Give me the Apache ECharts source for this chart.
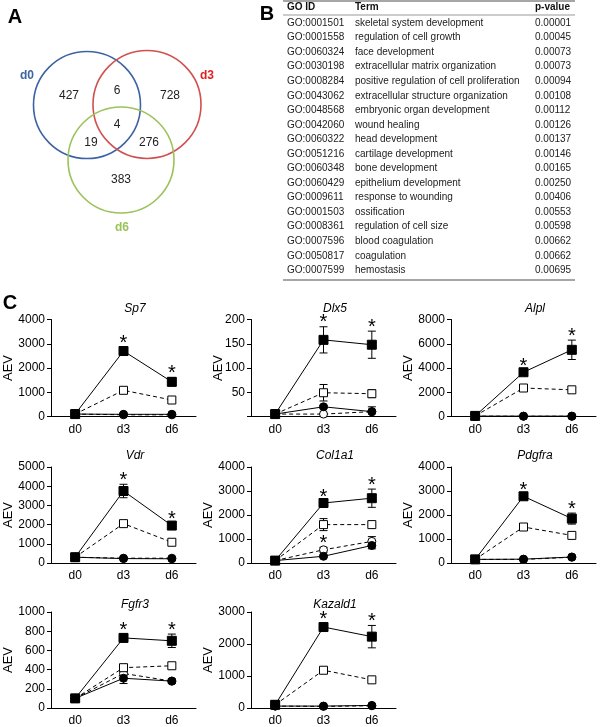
<!DOCTYPE html>
<html><head><meta charset="utf-8">
<script src="https://cdn.jsdelivr.net/npm/echarts@6/dist/echarts.min.js"></script>
<style>html,body{margin:0;padding:0;background:#fff}#c{width:600px;height:727px}</style>
</head><body><div id="c"></div>
<script>
// ---------- Data ----------
const vennSets = ['d0', 'd3', 'd6'];
const vennCounts = [427, 6, 728, 4, 19, 276, 383]; // d0only, d0d3, d3only, all, d0d6, d3d6, d6only

const goIds = ['GO:0001501','GO:0001558','GO:0060324','GO:0030198','GO:0008284','GO:0043062','GO:0048568','GO:0042060','GO:0060322','GO:0051216','GO:0060348','GO:0060429','GO:0009611','GO:0001503','GO:0008361','GO:0007596','GO:0050817','GO:0007599'];
const goTerms = ['skeletal system development','regulation of cell growth','face development','extracellular matrix organization','positive regulation of cell proliferation','extracellular structure organization','embryonic organ development','wound healing','head development','cartilage development','bone development','epithelium development','response to wounding','ossification','regulation of cell size','blood coagulation','coagulation','hemostasis'];
const goPvalues = ['0.00001','0.00045','0.00073','0.00073','0.00094','0.00108','0.00112','0.00126','0.00137','0.00146','0.00165','0.00250','0.00406','0.00553','0.00598','0.00662','0.00662','0.00695'];

const days = ['d0', 'd3', 'd6'];
const genes = ['Sp7','Dlx5','Alpl','Vdr','Col1a1','Pdgfra','Fgfr3','Kazald1'];
const yMax  = [4000, 200, 8000, 5000, 4000, 4000, 1000, 3000];
const yStep = [1000, 50, 2000, 1000, 1000, 1000, 200, 1000];

const filledSquare    = [[100,2700,1430],[5,158,148],[50,3650,5500],[300,3750,1950],[100,2500,2700],[150,2780,1850],[100,730,700],[100,2530,2230]];
const filledSquareErr = [[30,130,170],[1,27,28],[20,150,800],[30,350,120],[20,80,380],[20,80,230],[10,40,70],[20,120,350]];
const openSquare      = [[100,1080,680],[5,49,47],[50,2350,2200],[300,2050,1080],[100,1600,1600],[150,1500,1150],[100,420,440],[100,1180,880]];
const openSquareErr   = [[10,40,30],[1,17,8],[10,80,60],[20,60,50],[10,250,40],[10,50,40],[10,20,30],[10,40,30]];
const filledCircle    = [[100,90,90],[5,20,10],[30,30,30],[300,230,220],[100,280,730],[150,160,250],[100,310,280],[60,60,80]];
const filledCircleErr = [[0,0,0],[0,3,10],[0,0,0],[0,0,0],[10,50,140],[0,0,0],[10,55,20],[0,0,0]];
const openCircle      = [[100,70,70],[5,5,10],[30,20,20],[300,250,250],[100,550,900],[150,150,240],[100,360,280],[60,50,70]];
const openCircleErr   = [[0,0,0],[0,0,0],[0,0,0],[0,0,0],[10,100,200],[0,0,0],[10,20,20],[0,0,0]];
// significance stars: [seriesKey, dayIndex]
const stars = [
  [['fs',1],['fs',2]], [['fs',1],['fs',2]], [['fs',1],['fs',2]], [['fs',1],['fs',2]],
  [['fs',1],['fs',2],['oc',1]], [['fs',1],['fs',2]], [['fs',1],['fs',2]], [['fs',1],['fs',2]]
];

// ---------- Layout ----------
const colX = [0, 200, 400];
const rowTop = [319.5, 467, 612];
const rowBottom = [416.5, 563, 708];
const titleY = [298, 445, 594];
const FONT = 'Liberation Sans, Arial, sans-serif';

const chart = echarts.init(document.getElementById('c'), null, {renderer: 'canvas'});

const grids = [], xAxes = [], yAxes = [], series = [], titles = [];

function errSeries(gi, vals, errs) {
  return {
    type: 'custom', xAxisIndex: gi, yAxisIndex: gi, z: 3, silent: true,
    data: vals.map((v, i) => [i, v, errs[i]]).filter(d => d[2] > 0),
    renderItem: function (params, api) {
      const x = api.value(0), v = api.value(1), e = api.value(2);
      const top = api.coord([x, v + e]);
      const bot = api.coord([x, Math.max(0, v - e)]);
      const w = 4;
      const st = {stroke: '#000', lineWidth: 1};
      return {type: 'group', children: [
        {type: 'line', shape: {x1: top[0], y1: top[1], x2: bot[0], y2: bot[1]}, style: st},
        {type: 'line', shape: {x1: top[0]-w, y1: top[1], x2: top[0]+w, y2: top[1]}, style: st},
        {type: 'line', shape: {x1: bot[0]-w, y1: bot[1], x2: bot[0]+w, y2: bot[1]}, style: st}
      ]};
    }
  };
}

function lineSeries(gi, vals, opts) {
  return {
    type: 'line', xAxisIndex: gi, yAxisIndex: gi, data: vals,
    symbol: opts.symbol, symbolSize: opts.size, z: opts.z,
    lineStyle: {color: '#000', width: 1, type: opts.dashed ? [4, 3] : 'solid'},
    itemStyle: {color: opts.filled ? '#000' : '#fff', borderColor: '#000', borderWidth: 1},
    emphasis: {disabled: true}, animation: false
  };
}

genes.forEach((g, gi) => {
  const r = Math.floor(gi / 3), c = gi % 3;
  const left = colX[c] + 51;
  grids.push({left: left, width: 145, top: rowTop[r], height: rowBottom[r] - rowTop[r]});
  xAxes.push({
    type: 'category', gridIndex: gi, data: days, boundaryGap: true,
    axisLine: {lineStyle: {color: '#000', width: 1}}, axisTick: {show: false},
    axisLabel: {color: '#000', fontSize: 12, fontFamily: FONT, margin: 7}
  });
  yAxes.push({
    type: 'value', gridIndex: gi, min: 0, max: yMax[gi], interval: yStep[gi],
    name: 'AEV', nameLocation: 'middle', nameGap: String(yMax[gi]).length >= 4 ? 36 : 26,
    nameMoveOverlap: false,
    nameTextStyle: {color: '#000', fontSize: 13, fontFamily: FONT},
    axisLine: {show: true, lineStyle: {color: '#000', width: 1}},
    axisTick: {show: true, length: 4, lineStyle: {color: '#000'}},
    splitLine: {show: false},
    axisLabel: {color: '#000', fontSize: 12, fontFamily: FONT, margin: 6,
      formatter: v => (g === 'Dlx5' && v === 0) ? '' : String(v)}
  });
  titles.push({text: g, left: colX[c] + 130, top: titleY[r], textAlign: 'center',
    textStyle: {fontSize: 12, fontStyle: 'italic', fontWeight: 'normal', color: '#000', fontFamily: FONT}});

  series.push(lineSeries(gi, openCircle[gi], {symbol: 'circle', size: 8, filled: false, dashed: true, z: 4}));
  series.push(lineSeries(gi, filledCircle[gi], {symbol: 'circle', size: 8, filled: true, dashed: false, z: 5}));
  series.push(lineSeries(gi, openSquare[gi], {symbol: 'rect', size: 8, filled: false, dashed: true, z: 6}));
  series.push(lineSeries(gi, filledSquare[gi], {symbol: 'rect', size: 9, filled: true, dashed: false, z: 7}));
  series.push(errSeries(gi, openCircle[gi], openCircleErr[gi]));
  series.push(errSeries(gi, filledCircle[gi], filledCircleErr[gi]));
  series.push(errSeries(gi, openSquare[gi], openSquareErr[gi]));
  series.push(errSeries(gi, filledSquare[gi], filledSquareErr[gi]));

  const src = {fs: [filledSquare, filledSquareErr], oc: [openCircle, openCircleErr]};
  series.push({
    type: 'custom', xAxisIndex: gi, yAxisIndex: gi, z: 8, silent: true,
    data: stars[gi].map(s => [s[1], src[s[0]][0][gi][s[1]] + src[s[0]][1][gi][s[1]]]),
    renderItem: function (params, api) {
      const p = api.coord([api.value(0), api.value(1)]);
      return {type: 'text', x: p[0], y: p[1] - 4,
        style: {text: '*', fill: '#000', fontSize: 20, fontFamily: FONT, align: 'center', verticalAlign: 'middle'}};
    }
  });
});

// ---------- Venn (panel A) and table (panel B) as graphic ----------
const graphic = [];
const panelLab = (t, x, y) => ({type: 'text', x: x, y: y, style: {text: t, fontSize: 20, fontWeight: 'bold', fontFamily: FONT, fill: '#000', align: 'center', verticalAlign: 'middle'}});
graphic.push(panelLab('A', 15, 17), panelLab('B', 267, 14), panelLab('C', 10, 303));

const vennGeom = [{cx: 87, cy: 105, r: 53.5, color: '#3d63a4'}, {cx: 147, cy: 104.5, r: 54, color: '#d05050'}, {cx: 121, cy: 160, r: 53, color: '#9bc35a'}];
vennGeom.forEach(v => graphic.push({type: 'circle', shape: {cx: v.cx, cy: v.cy, r: v.r}, style: {fill: 'none', stroke: v.color, lineWidth: 1.6}}));
const vennSetPos = [[27, 76], [207, 76], [122, 228]];
const vennSetCol = ['#3d63a4', '#e02020', '#9bc35a'];
vennSets.forEach((s, i) => graphic.push({type: 'text', x: vennSetPos[i][0], y: vennSetPos[i][1],
  style: {text: s, fontSize: 12, fontWeight: 'bold', fontFamily: FONT, fill: vennSetCol[i], align: 'center', verticalAlign: 'middle'}}));
const vennNumPos = [[69, 96], [117, 91], [170, 96], [117, 125], [91, 143], [149, 143], [121, 180]];
vennCounts.forEach((n, i) => graphic.push({type: 'text', x: vennNumPos[i][0], y: vennNumPos[i][1],
  style: {text: String(n), fontSize: 12, fontFamily: FONT, fill: '#222', align: 'center', verticalAlign: 'middle'}}));

const tblX = [287, 355, 535], tblTop = 7, rowStep = 14.55, row0 = 23;
const tblFont = {fontSize: 10, fontFamily: FONT, fill: '#222', verticalAlign: 'middle'};
graphic.push({type: 'line', shape: {x1: 283, y1: 1, x2: 575, y2: 1}, style: {stroke: '#888', lineWidth: 1.5}});
graphic.push({type: 'line', shape: {x1: 283, y1: 15, x2: 575, y2: 15}, style: {stroke: '#999', lineWidth: 1}});
graphic.push({type: 'line', shape: {x1: 283, y1: 280, x2: 575, y2: 280}, style: {stroke: '#888', lineWidth: 1.5}});
['GO ID', 'Term', 'p-value'].forEach((h, i) => graphic.push({type: 'text', x: tblX[i], y: tblTop,
  style: Object.assign({}, tblFont, {text: h, fontWeight: 'bold', fill: '#111'})}));
goIds.forEach((id, i) => {
  const y = row0 + i * rowStep;
  graphic.push({type: 'text', x: tblX[0], y: y, style: Object.assign({}, tblFont, {text: id})});
  graphic.push({type: 'text', x: tblX[1], y: y, style: Object.assign({}, tblFont, {text: goTerms[i]})});
  graphic.push({type: 'text', x: tblX[2], y: y, style: Object.assign({}, tblFont, {text: goPvalues[i]})});
});

chart.setOption({
  animation: false,
  backgroundColor: '#fff',
  title: titles,
  grid: grids, xAxis: xAxes, yAxis: yAxes, series: series,
  graphic: graphic
});
</script></body></html>
